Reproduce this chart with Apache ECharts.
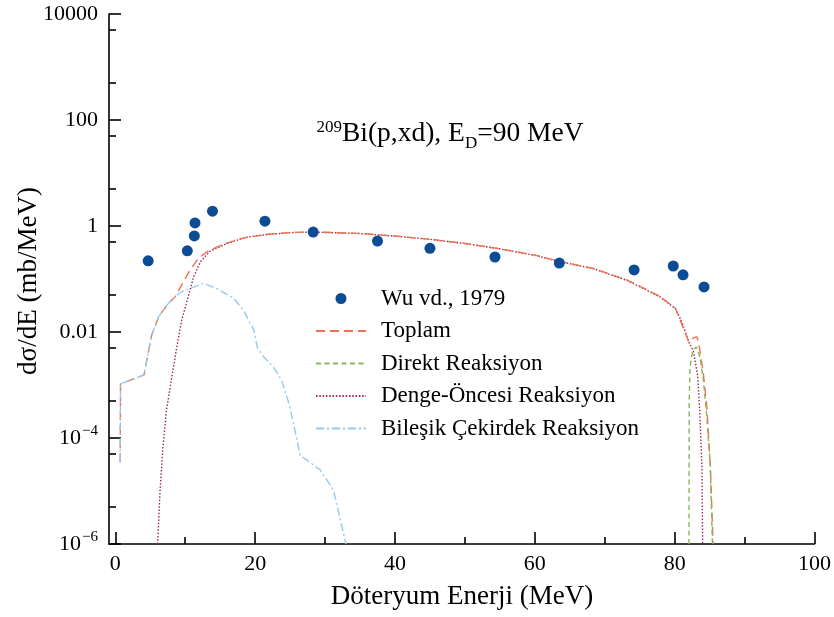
<!DOCTYPE html>
<html>
<head>
<meta charset="utf-8">
<script src="https://cdn.jsdelivr.net/npm/echarts@6/dist/echarts.min.js"></script>
<style>
html,body{margin:0;padding:0;background:#fff;}
#chart{width:834px;height:617px;}
</style>
</head>
<body>
<div id="chart"></div>
<script>
// ---- data ----
const expX = [4.7, 10.3, 11.3, 11.4, 13.9, 21.4, 28.3, 37.5, 45.0, 54.3, 63.5, 74.2, 79.8, 81.2, 84.2];
const expY = [0.22, 0.34, 0.65, 1.14, 1.9, 1.23, 0.77, 0.52, 0.38, 0.26, 0.20, 0.148, 0.176, 0.12, 0.071];

const toplamX = [0.7, 0.75, 4.1, 5.2, 6.2, 7.6, 8.6, 9.5, 10.7, 11.9, 13.3, 15.5, 18.3, 21.7, 25.5, 28.3, 35, 40, 45, 50, 55, 60, 63.6, 68.4, 73.2, 77.9, 80.1, 82.0, 82.7, 83.2, 83.6, 84.1, 84.6, 85.1, 85.5];
const toplamY = [3.5e-5, 1.05e-3, 1.55e-3, 8.7e-3, 0.0195, 0.0347, 0.0468, 0.0776, 0.148, 0.245, 0.339, 0.457, 0.589, 0.697, 0.759, 0.771, 0.724, 0.646, 0.562, 0.468, 0.372, 0.282, 0.214, 0.158, 0.0955, 0.0468, 0.0282, 0.0066, 0.0078, 0.0081, 0.0046, 0.00166, 3.9e-4, 2.9e-5, 1e-6];

const direktX = [82.05, 82.08, 82.2, 82.6, 83.1, 83.6, 84.1, 84.6, 85.1, 85.4];
const direktY = [1e-6, 5.2e-4, 2.24e-3, 4.5e-3, 5.2e-3, 3.4e-3, 1.26e-3, 2.5e-4, 2.9e-5, 1e-6];

const dengeX = [6.05, 6.4, 6.8, 7.3, 8.1, 8.8, 9.5, 10.5, 11.2, 12.2, 13.6, 16, 18.8, 21.7, 25.5, 28.3, 35, 40, 45, 50, 55, 60, 63.6, 68.4, 73.2, 77.9, 80.1, 81, 82, 82.7, 83.3, 83.6, 83.9, 84.0];
const dengeY = [1e-6, 1e-5, 6.3e-5, 3.2e-4, 1.45e-3, 5.2e-3, 0.017, 0.050, 0.110, 0.214, 0.339, 0.468, 0.617, 0.69, 0.755, 0.768, 0.722, 0.644, 0.560, 0.466, 0.370, 0.280, 0.212, 0.156, 0.094, 0.046, 0.0277, 0.0158, 0.0066, 0.0043, 0.00145, 2.95e-4, 2.9e-5, 1e-6];

const bilesikX = [0.7, 0.75, 4.1, 5.2, 6.2, 7.6, 8.6, 9.5, 10.7, 12.6, 14.5, 16.9, 18.3, 19.8, 20.3, 21.2, 22.6, 23.8, 24.9, 26.0, 26.4, 27.2, 29.3, 31.2, 32.2, 33.0];
const bilesikY = [3.5e-5, 1.05e-3, 1.55e-3, 8.7e-3, 0.0195, 0.0347, 0.0468, 0.0575, 0.066, 0.083, 0.066, 0.0437, 0.0263, 0.011, 0.0052, 0.0034, 0.0022, 0.00123, 4.2e-4, 9.1e-5, 4.8e-5, 4.0e-5, 2.5e-5, 1.05e-5, 2.8e-6, 1e-6];

const xMajorTicks = [0, 20, 40, 60, 80, 100];
const xMinorTicks = [10, 30, 50, 70, 90];
const yMajorTickValues = [1e-6, 1e-4, 0.01, 1, 100, 10000];
const yMajorTickLabels = ['10^−6', '10^−4', '0.01', '1', '100', '10000'];
const yMinorTickValues = [5e-6, 5e-5, 5e-4, 5e-3, 0.05, 0.5, 5, 50, 500, 5000];

const legendNames = ['Wu vd., 1979', 'Toplam', 'Direkt Reaksiyon', 'Denge-Öncesi Reaksiyon', 'Bileşik Çekirdek Reaksiyon'];

// ---- build ----
const pair = (xs, ys) => xs.map((x, i) => [x, ys[i]]);
const FONT = '"Liberation Serif", "DejaVu Serif", serif';
const X_MIN = -0.9, X_MAX = 100;
const Y_EXP_MIN = -6, Y_EXP_MAX = 4;
const lg = v => Math.log10(v);

const chart = echarts.init(document.getElementById('chart'), null, {renderer: 'canvas'});

const yLabelFormatter = function (v) {
  let idx = -1;
  yMajorTickValues.forEach((t, i) => { if (Math.abs(lg(t) - v) < 1e-6) idx = i; });
  if (idx < 0) return '';
  const t = yMajorTickLabels[idx];
  if (t.indexOf('^') >= 0) {
    const parts = t.split('^');
    return '{b|' + parts[0] + '}{s|' + parts[1] + '}';
  }
  return '{b|' + t + '}';
};

const baseLine = {show: true, onZero: false, lineStyle: {color: '#000', width: 1.6}};
const noLine = {show: false, onZero: false};

const option = {
  animation: false,
  backgroundColor: '#fff',
  grid: {left: 109, right: 19.5, top: 14, bottom: 73, containLabel: false},
  xAxis: [
    {
      type: 'value', min: X_MIN, max: X_MAX, position: 'bottom',
      axisLine: baseLine,
      axisTick: {show: true, inside: true, length: 12, customValues: xMajorTicks, lineStyle: {color: '#000', width: 1.6}},
      axisLabel: {show: true, customValues: xMajorTicks, margin: 9, fontFamily: FONT, fontSize: 22, color: '#000'},
      splitLine: {show: false}
    },
    {
      type: 'value', min: X_MIN, max: X_MAX, position: 'bottom',
      axisLine: noLine,
      axisTick: {show: true, inside: true, length: 7, customValues: xMinorTicks, lineStyle: {color: '#000', width: 1.6}},
      axisLabel: {show: false},
      splitLine: {show: false}
    }
  ],
  yAxis: [
    {
      type: 'log', logBase: 10, min: 1e-6, max: 1e4, position: 'left',
      axisLine: baseLine,
      axisTick: {show: false},
      axisLabel: {show: false},
      splitLine: {show: false}
    },
    {
      type: 'value', min: Y_EXP_MIN, max: Y_EXP_MAX, position: 'left',
      axisLine: noLine,
      axisTick: {show: true, inside: true, length: 12, customValues: yMajorTickValues.map(lg), lineStyle: {color: '#000', width: 1.6}},
      axisLabel: {
        show: true, customValues: yMajorTickValues.map(lg), margin: 11, formatter: yLabelFormatter,
        rich: {
          b: {fontFamily: FONT, fontSize: 22, color: '#000'},
          s: {fontFamily: FONT, fontSize: 15, color: '#000', padding: [0, 0, 14, 1]}
        }
      },
      splitLine: {show: false}
    },
    {
      type: 'value', min: Y_EXP_MIN, max: Y_EXP_MAX, position: 'left',
      axisLine: noLine,
      axisTick: {show: true, inside: true, length: 7, customValues: yMinorTickValues.map(lg), lineStyle: {color: '#000', width: 1.6}},
      axisLabel: {show: false},
      splitLine: {show: false}
    }
  ],
  legend: {
    orient: 'vertical', left: 315, top: 287, padding: 0,
    itemWidth: 50, itemHeight: 11, itemGap: 9.5,
    textStyle: {fontFamily: FONT, fontSize: 23, color: '#000', lineHeight: 23, padding: [0, 0, 0, 10]},
    data: legendNames.map((n, i) => i === 0 ? {name: n} : {name: n, itemStyle: {opacity: 0}})
  },
  series: [
    {
      name: legendNames[0], type: 'scatter', xAxisIndex: 0, yAxisIndex: 0,
      symbol: 'circle', symbolSize: 11, z: 5,
      itemStyle: {color: '#0b4c94', opacity: 1},
      data: pair(expX, expY)
    },
    {
      name: legendNames[1], type: 'line', xAxisIndex: 0, yAxisIndex: 0,
      symbol: 'none', showSymbol: false, z: 3,
      itemStyle: {color: '#f2704f'},
      lineStyle: {color: '#f2704f', width: 1.4, type: [9, 5]},
      data: pair(toplamX, toplamY)
    },
    {
      name: legendNames[2], type: 'line', xAxisIndex: 0, yAxisIndex: 0,
      symbol: 'none', showSymbol: false, z: 3,
      itemStyle: {color: '#86b85a'},
      lineStyle: {color: '#86b85a', width: 1.4, type: [5, 3.5]},
      data: pair(direktX, direktY)
    },
    {
      name: legendNames[3], type: 'line', xAxisIndex: 0, yAxisIndex: 0,
      symbol: 'none', showSymbol: false, z: 2,
      itemStyle: {color: '#9c2a4c'},
      lineStyle: {color: '#9c2a4c', width: 1.4, type: [1.5, 1.8]},
      data: pair(dengeX, dengeY)
    },
    {
      name: legendNames[4], type: 'line', xAxisIndex: 0, yAxisIndex: 0,
      symbol: 'none', showSymbol: false, z: 4,
      itemStyle: {color: '#94caf0'},
      lineStyle: {color: '#94caf0', width: 1.4, type: [8, 3, 2, 3]},
      data: pair(bilesikX, bilesikY)
    }
  ],
  graphic: [
    {
      type: 'text', x: 450, y: 134,
      style: {
        x: 0, y: 0,
        text: '{sup|209}{n|Bi(p,xd), E}{sub|D}{n|=90 MeV}',
        textAlign: 'center', textVerticalAlign: 'middle',
        rich: {
          n: {fontFamily: FONT, fontSize: 27.5, color: '#000'},
          sup: {fontFamily: FONT, fontSize: 17, color: '#000', padding: [0, 0, 13, 0]},
          sub: {fontFamily: FONT, fontSize: 17, color: '#000', padding: [19, 0, 0, 0]}
        }
      }
    },
    {
      type: 'text', x: 462, y: 597,
      style: {
        x: 0, y: 0, text: 'Döteryum Enerji (MeV)',
        textAlign: 'center', textVerticalAlign: 'middle',
        fontFamily: FONT, fontSize: 27, fill: '#000'
      }
    },
    {
      type: 'text', x: 29, y: 281, rotation: Math.PI / 2,
      style: {
        x: 0, y: 0, text: 'dσ/dE (mb/MeV)',
        textAlign: 'center', textVerticalAlign: 'middle',
        fontFamily: FONT, fontSize: 27, fill: '#000'
      }
    }
  ]
};
chart.setOption(option);
</script>
</body>
</html>
